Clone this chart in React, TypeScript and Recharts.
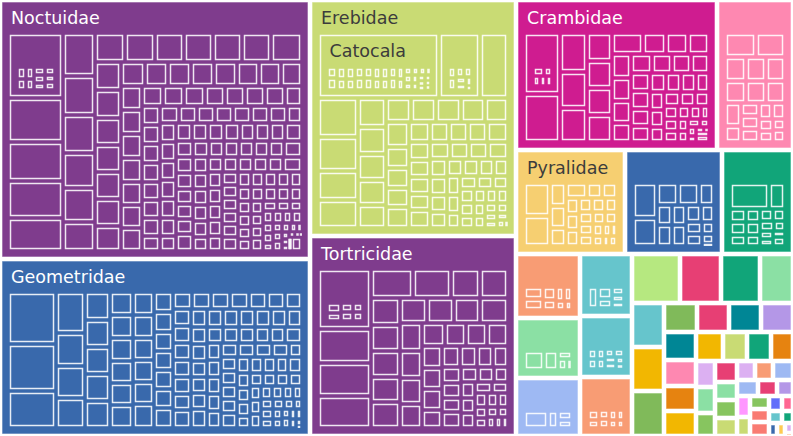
import React from "react";
import { Treemap } from "recharts";

const WIDTH = 793;
const HEIGHT = 436;
const LABEL_SIZE = 17.5;
const FONT = '"DejaVu Sans", Verdana, sans-serif';

// families, biggest first (the squarify layout keeps this order)
const familyNames = [
  "Noctuidae", "Geometridae", "Erebidae", "Tortricidae", "Crambidae",
  "Notodontidae", "Pyralidae", "Gelechiidae", "Sphingidae",
  "Depressariidae", "Lasiocampidae", "Tineidae", "Pterophoridae", "Oecophoridae", "Plutellidae",
  "Saturniidae", "Drepanidae", "Sesiidae", "Limacodidae", "Zygaenidae", "Cosmopterigidae",
  "Gracillariidae", "Yponomeutidae", "Elachistidae", "Argyresthiidae", "Ethmiidae", "Nolidae",
  "Apatelodidae", "Mimallonidae", "Scythrididae", "Uraniidae", "Thyrididae", "Choreutidae",
  "Prodoxidae", "Coleophoridae", "Epermeniidae", "Momphidae", "Heliozelidae", "Bucculatricidae",
  "Opostegidae", "Glyphipterigidae", "Blastobasidae", "Lyonetiidae", "Batrachedridae", "Cossidae",
  "Hepialidae", "Douglasiidae", "Tischeriidae", "Nepticulidae", "Attevidae", "Megalopygidae",
  "Schreckensteiniidae", "Acrolophidae", "Psychidae", "Dalceridae", "Epipyropidae", "Lacturidae",
  "Urodidae", "Micropterigidae", "Eriocraniidae", "Incurvariidae", "Adelidae", "Roeslerstammiidae",
  "Bedelliidae",
];

const familyTotals = [
  80200, 54500, 48500, 41300, 30100,
  11330, 11300, 10100, 7200,
  4095, 3843, 3654, 3213, 3162, 3009,
  2352, 2016, 1920, 1584, 1410, 1405,
  1400, 960, 940, 920, 900, 896,
  832, 800, 790, 784, 700, 690,
  644, 500, 490, 460, 450, 400,
  390, 380, 350, 345, 340, 335,
  300, 280, 275, 260, 255, 250,
  240, 200, 160, 150, 130, 110,
  100, 80, 60, 50, 40, 30,
  20,
];

// species sizes inside each family
const noctuidaeSpecies = [
  2270, 2000, 1940, 1780, 1300, 1180, 1150, 1050, 1020, 960,
  820, 810, 800, 790, 785, 780, 770, 690, 680, 670, 665, 660, 650, 640,
  540, 530, 520, 515, 510, 505, 500, 495, 480, 475, 470, 465, 460, 455, 450,
  400, 395, 390, 385, 380, 375, 370, 365, 330, 325, 320, 315, 310, 305,
  300, 298, 296, 295, 294, 292, 290, 290, 288, 287, 286, 285, 285, 282, 280,
  277, 275, 272, 270, 268, 265, 262, 260, 258, 255, 252, 250, 248, 245, 242,
  240, 238, 235, 232, 230, 228, 228, 226, 225, 224, 222, 222, 220, 220, 218,
  218, 216, 215, 214, 212, 212, 210, 210, 208, 205, 202, 200, 198, 195, 192,
  190, 188, 185, 182, 180, 178, 175, 172, 170, 168, 165, 162, 160, 156, 152,
  148, 144, 140, 136, 132, 128, 124, 120, 115, 110, 105, 100, 95, 90, 85,
  80, 75, 70, 64, 58, 52, 46, 40, 34, 28, 22, 16, 12, 9, 6,
];
const agrotisSpecies = [420, 400, 380, 360, 340, 330, 320, 300, 280, 250];

const geometridaeSpecies = [
  2450, 2200, 1800, 1160, 930, 900, 840, 680, 670, 660, 650, 640,
  520, 515, 510, 505, 500, 495, 470, 466, 462, 458, 455, 450,
  370, 366, 362, 358, 355, 352, 348, 320, 316, 312, 308, 304, 300, 300,
  298, 296, 296, 294, 292, 290, 290, 288, 286, 286, 282, 278, 274, 270,
  266, 262, 258, 255, 252, 249, 246, 244, 243, 242, 240, 240, 238, 237,
  236, 234, 234, 232, 231, 230, 228, 225, 222, 219, 216, 213, 210, 206,
  202, 198, 194, 190, 186, 182, 178, 174, 170, 166, 162, 158, 154, 150,
  145, 140, 135, 130, 125, 120, 115, 110, 104, 98, 92, 86, 80, 74, 68,
  62, 56, 50, 44, 38, 32, 26, 20, 14, 10, 7,
];

const erebidaeSpecies = [
  1650, 1440, 1260, 1080, 970, 750, 700, 670, 640, 620,
  560, 550, 545, 540, 535, 530, 450, 430, 410, 395, 380,
  360, 355, 350, 345, 340, 335, 330, 320, 315, 310, 305, 300, 295, 290,
  280, 272, 264, 256, 248, 240, 232, 224, 216, 208, 200, 192, 184, 176,
  168, 160, 152, 144, 136, 128, 120, 110, 100, 90, 80, 70, 60, 50, 40, 32, 24, 16, 10,
];
const catocalaSpecies = [
  340, 335, 330, 325, 320, 315, 310, 305, 300, 295, 290, 285, 280, 275, 270, 265, 260, 255,
  200, 190, 180, 170, 160, 150, 140, 130, 120, 110, 100, 90, 80, 70,
];
const zaleSpecies = [400, 380, 350, 330, 300, 280, 230, 180];

const tortricidaeSpecies = [
  1650, 1600, 1500, 1100, 1000, 760, 720, 700, 690, 680, 670, 660,
  620, 610, 600, 590, 560, 540, 520, 500, 480, 450, 430, 410, 400, 390, 380,
  360, 340, 320, 300, 290, 280, 260, 250, 240, 230, 220, 210, 200, 190, 180,
  170, 160, 150, 140, 130, 120, 110, 100, 90, 80, 70, 60, 50, 40, 30, 20, 12,
];
const aclerisSpecies = [600, 550, 500, 450, 420, 380];

const crambidaeSpecies = [
  1480, 920, 850, 820, 600, 590, 580, 570, 560, 420, 410, 400, 390, 380,
  360, 350, 340, 330, 320, 310, 300, 290, 280, 270, 260, 250, 240, 230,
  220, 210, 200, 190, 180, 170, 160, 150, 140, 130, 120, 110, 100, 90,
  80, 70, 60, 50, 40, 30, 20, 12,
];
const crambusSpecies = [500, 420, 380, 340, 260];

const notodontidaeSpecies = [670, 660, 450, 440, 430, 420, 410, 400, 340, 230, 220, 210, 200, 190, 180, 150, 140, 120, 100];
const pyralidaeSpecies = [570, 530, 240, 230, 220, 210, 150, 145, 140, 135, 130, 125, 120, 115, 110, 105, 100, 95, 90, 80, 70, 60, 50, 40, 30];
const gelechiidaeSpecies = [680, 520, 380, 370, 250, 245, 240, 230, 220, 200, 180, 160, 140, 120, 100, 80];
const sphingidaeSpecies = [680, 285, 140, 135, 130, 125, 120, 110, 100, 95, 90, 80, 70, 60, 50, 40];
const depressariidaeSpecies = [130, 110, 90, 75, 65, 55, 45, 35];
const lasiocampidaeSpecies = [160, 110, 45, 40, 35];
const tineidaeSpecies = [170, 70, 55, 45];
const pterophoridaeSpecies = [110, 85, 65, 50, 40, 30];
const oecophoridaeSpecies = [60, 58, 55, 52, 50, 48, 45, 42, 38, 34];
const plutellidaeSpecies = [65, 60, 55, 50, 46, 42, 40, 36];

const speciesByFamily: Record<string, number[]> = {
  Noctuidae: noctuidaeSpecies,
  Geometridae: geometridaeSpecies,
  Erebidae: erebidaeSpecies,
  Tortricidae: tortricidaeSpecies,
  Crambidae: crambidaeSpecies,
  Notodontidae: notodontidaeSpecies,
  Pyralidae: pyralidaeSpecies,
  Gelechiidae: gelechiidaeSpecies,
  Sphingidae: sphingidaeSpecies,
  Depressariidae: depressariidaeSpecies,
  Lasiocampidae: lasiocampidaeSpecies,
  Tineidae: tineidaeSpecies,
  Pterophoridae: pterophoridaeSpecies,
  Oecophoridae: oecophoridaeSpecies,
  Plutellidae: plutellidaeSpecies,
};

const generaByFamily: Record<string, { name: string; species: number[] }[]> = {
  Noctuidae: [{ name: "Agrotis", species: agrotisSpecies }],
  Erebidae: [
    { name: "Catocala", species: catocalaSpecies },
    { name: "Zale", species: zaleSpecies },
  ],
  Tortricidae: [{ name: "Acleris", species: aclerisSpecies }],
  Crambidae: [{ name: "Crambus", species: crambusSpecies }],
};

const familyColors: Record<string, string> = {
  Noctuidae: "#7F3C8D", Geometridae: "#3969AC", Erebidae: "#C9DB74", Tortricidae: "#7F3C8D",
  Crambidae: "#CF1C90", Notodontidae: "#FE88B1", Pyralidae: "#F6CF71", Gelechiidae: "#3969AC",
  Sphingidae: "#11A579", Depressariidae: "#F89C74", Lasiocampidae: "#8BE0A4", Tineidae: "#9EB9F3",
  Pterophoridae: "#66C5CC", Oecophoridae: "#66C5CC", Plutellidae: "#F89C74", Saturniidae: "#B6E880",
  Drepanidae: "#E73F74", Sesiidae: "#11A579", Limacodidae: "#8BE0A4", Zygaenidae: "#66C5CC",
  Cosmopterigidae: "#F2B701", Gracillariidae: "#80BA5A", Yponomeutidae: "#80BA5A", Elachistidae: "#E73F74",
  Argyresthiidae: "#008695", Ethmiidae: "#B497E7", Nolidae: "#008695", Apatelodidae: "#FE88B1",
  Mimallonidae: "#E68310", Scythrididae: "#F2B701", Uraniidae: "#F2B701", Thyrididae: "#C9DB74",
  Choreutidae: "#11A579", Prodoxidae: "#E68310", Coleophoridae: "#DCB0F2", Epermeniidae: "#8BE0A4",
  Momphidae: "#87C55F", Heliozelidae: "#E73F74", Bucculatricidae: "#8BE0A4", Opostegidae: "#87C55F",
  Glyphipterigidae: "#C9DB74", Blastobasidae: "#DCB0F2", Lyonetiidae: "#F89C74", Batrachedridae: "#9EB9F3",
  Cossidae: "#9EB9F3", Hepialidae: "#E73F74", Douglasiidae: "#B497E7", Tischeriidae: "#FF97FF",
  Nepticulidae: "#C9DB74", Attevidae: "#87C55F", Megalopygidae: "#F97B72", Schreckensteiniidae: "#F97B72",
  Acrolophidae: "#636EFA", Psychidae: "#FF6692", Dalceridae: "#66C5CC", Epipyropidae: "#11A579",
  Lacturidae: "#3969AC", Urodidae: "#FECB52", Micropterigidae: "#DCB0F2", Eriocraniidae: "#FFA15A",
  Incurvariidae: "#19D3F3", Adelidae: "#AB63FA", Roeslerstammiidae: "#00CC96", Bedelliidae: "#EF553B",
};

type TreeNode = { name: string; size: number; kids?: TreeNode[] };

const sum = (values: number[]) => values.reduce((a, b) => a + b, 0);
const toLeaves = (prefix: string, values: number[]): TreeNode[] =>
  values.map((size, i) => ({ name: `${prefix} ${i + 1}`, size }));

const families: TreeNode[] = familyNames.map((name, i) => {
  const own = speciesByFamily[name];
  if (!own) return { name, size: familyTotals[i] };
  const genera = (generaByFamily[name] ?? []).map((g) => ({
    name: g.name,
    size: sum(g.species),
    kids: toLeaves(g.name, g.species),
  }));
  return { name, size: familyTotals[i], kids: [...genera, ...toLeaves(name, own)] };
});

let ctx: CanvasRenderingContext2D | null = null;
function labelWidth(text: string) {
  if (!ctx) ctx = document.createElement("canvas").getContext("2d");
  if (!ctx) return text.length * LABEL_SIZE * 0.6;
  ctx.font = `${LABEL_SIZE}px ${FONT}`;
  return ctx.measureText(text).width;
}

function isLight(hex: string) {
  const r = parseInt(hex.slice(1, 3), 16);
  const g = parseInt(hex.slice(3, 5), 16);
  const b = parseInt(hex.slice(5, 7), 16);
  return 0.299 * r + 0.587 * g + 0.114 * b > 160;
}

function TreeLevel({
  nodes,
  width,
  height,
  level,
  tint,
}: {
  nodes: TreeNode[];
  width: number;
  height: number;
  level: number;
  tint: string;
}) {
  const drawNode = (props: any) => {
    if (props.depth !== 1) return null;
    const { x, y, width: w, height: h, name, kids } = props;
    if (w < 1 || h < 1) return null;

    const inset = level === 0 ? 2 : 2.5;
    const rw = Math.max(w - 2 * inset, 1);
    const rh = Math.max(h - 2 * inset, 1);
    const rx = x + (w - rw) / 2;
    const ry = y + (h - rh) / 2;
    const color = level === 0 ? familyColors[name] ?? "#ccc" : tint;

    const hasKids = Array.isArray(kids) && kids.length > 0;
    const inner = { x: rx + 6, y: ry + 31, w: rw - 12, h: rh - 37 };
    const showKids = hasKids && inner.w > 3 && inner.h > 3;
    const showLabel = hasKids && rh > 30 && labelWidth(name) + 16 < rw;

    return (
      <g>
        <rect
          x={rx}
          y={ry}
          width={rw}
          height={rh}
          fill={level === 0 ? color : "none"}
          stroke="#fff"
          strokeOpacity={level === 0 ? 0.6 : 0.88}
          strokeWidth={level === 0 ? 1 : 1.5}
        />
        {showLabel && (
          <text
            x={rx + 9}
            y={ry + 21.5}
            fontSize={LABEL_SIZE}
            fontFamily={FONT}
            fill={isLight(color) ? "#3c3c3c" : "#ffffff"}
          >
            {name}
          </text>
        )}
        {showKids && (
          <foreignObject x={inner.x} y={inner.y} width={inner.w} height={inner.h}>
            <div style={{ width: inner.w, height: inner.h }}>
              <TreeLevel
                nodes={kids}
                width={inner.w}
                height={inner.h}
                level={level + 1}
                tint={color}
              />
            </div>
          </foreignObject>
        )}
      </g>
    );
  };

  return (
    <Treemap
      width={width}
      height={height}
      data={nodes}
      dataKey="size"
      nameKey="name"
      aspectRatio={1}
      isAnimationActive={false}
      content={drawNode}
    />
  );
}

export default function App() {
  return (
    <div
      style={{
        position: "absolute",
        left: 0,
        top: 0,
        width: WIDTH,
        height: HEIGHT,
        background: "#fff",
      }}
    >
      <TreeLevel nodes={families} width={WIDTH} height={HEIGHT} level={0} tint="#ffffff" />
    </div>
  );
}
